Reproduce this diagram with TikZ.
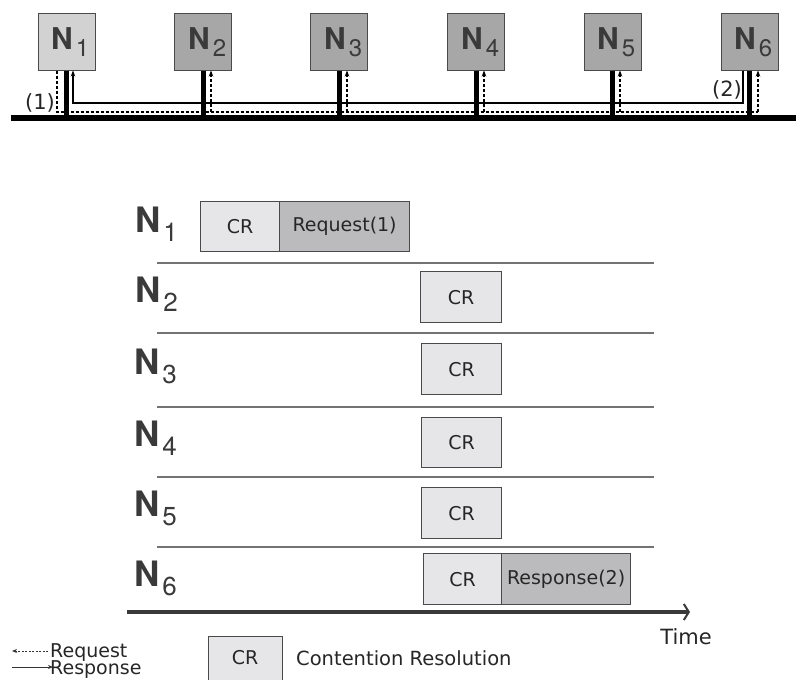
\documentclass[tikz,border=0pt]{standalone}
\usepackage{fontspec}
\setmainfont{DejaVu Sans}
\newfontfamily\hvfont{TeX Gyre Heros}
\usetikzlibrary{arrows.meta}
\definecolor{boxlight}{HTML}{D2D2D2}
\definecolor{boxdark}{HTML}{A7A7A7}
\definecolor{crfill}{HTML}{E6E6E8}
\definecolor{msgfill}{HTML}{BBBBBD}
\definecolor{labelgrey}{HTML}{3A3A3A}
\definecolor{edgegrey}{HTML}{4A4A4A}
% bold N with a lowered regular index: #1 index, #2 gap, #3 drop, #4 N size, #5 index size
\newcommand\nodetag[5]{{\hvfont\fontsize{#4}{#4}\selectfont\bfseries N\hspace{#2}\raisebox{-#3}{\fontsize{#5}{#5}\mdseries\selectfont #1}}}
\begin{document}
\begin{tikzpicture}[x=1pt,y=-1pt,
  station/.style={draw=edgegrey,line width=1pt,minimum width=57pt,minimum height=57pt,inner sep=0pt},
  toplabel/.style={anchor=base west,inner sep=0pt,text=labelgrey},
  rowlabel/.style={anchor=base west,inner sep=0pt,text=labelgrey},
  stem/.style={line width=5pt,black},
  req/.style={line width=1.2pt,dash pattern=on 3pt off 2pt,black},
  resp/.style={line width=1.2pt,black},
  tip/.style={-{Stealth[length=6pt,width=4.5pt]}},
  slot/.style={draw=edgegrey,line width=1.2pt,anchor=north west,inner sep=0pt,font=\fontsize{19}{19}\selectfont,text=black!85},
  rowline/.style={line width=1.4pt,black!55},
  paren/.style={inner sep=0pt,font=\fontsize{21}{21}\selectfont,text=black!85}
]
\useasboundingbox (0,0) rectangle (796,680);
\clip (0,0) rectangle (796,680);

% ---------- bus with six stations ----------
\coordinate (busL) at (11,118);
\coordinate (busR) at (796,118);
\draw[line width=6pt] (busL) -- (busR);

\node[station,fill=boxlight] (n1) at (66.5,41.5) {};
\node[station,fill=boxdark]  (n2) at (203,41.5) {};
\node[station,fill=boxdark]  (n3) at (339,41.5) {};
\node[station,fill=boxdark]  (n4) at (476,41.5) {};
\node[station,fill=boxdark]  (n5) at (612.5,41.5) {};
\node[station,fill=boxdark]  (n6) at (749.5,41.5) {};

\node[toplabel] (t1) at (51,49)  {\nodetag{1}{3pt}{7pt}{30}{24}};
\node[toplabel] (t2) at (188,49) {\nodetag{2}{3pt}{7pt}{30}{24}};
\node[toplabel] (t3) at (324,49) {\nodetag{3}{3pt}{7pt}{30}{24}};
\node[toplabel] (t4) at (461,49) {\nodetag{4}{3pt}{7pt}{30}{24}};
\node[toplabel] (t5) at (597,49) {\nodetag{5}{3pt}{7pt}{30}{24}};
\node[toplabel] (t6) at (734,49) {\nodetag{6}{3pt}{7pt}{30}{24}};

\foreach \i in {1,...,6}
  \draw[stem] (n\i.south) -- (n\i.south |- busL);

% request (1), broadcast by N1
\coordinate (q1) at (57,112);
\coordinate (q2) at (211,112);
\coordinate (q3) at (347,112);
\coordinate (q4) at (484,112);
\coordinate (q5) at (620,112);
\coordinate (q6) at (758,112);
\draw[req] (q1 |- n1.south) -- (q1) -- (q6);
\foreach \i in {2,...,6}
  \draw[req,tip] (q\i) -- (q\i |- n\i.south);

% response (2), from N6 back to N1
\coordinate (s6) at (743,103);
\coordinate (s1) at (73,103);
\draw[resp,tip] (s6 |- n6.south) -- (s6) -- (s1) -- (s1 |- n1.south);

\node[paren] (p1) at (40,103) {(1)};
\node[paren] (p2) at (727,90) {(2)};

% ---------- timing diagram ----------
\node[rowlabel] (r1) at (135,232) {\nodetag{1}{3pt}{9pt}{35}{26}};
\node[rowlabel] (r2) at (135,302) {\nodetag{2}{3pt}{9pt}{35}{26}};
\node[rowlabel] (r3) at (134,374) {\nodetag{3}{3pt}{9pt}{35}{26}};
\node[rowlabel] (r4) at (134,446) {\nodetag{4}{3pt}{9pt}{35}{26}};
\node[rowlabel] (r5) at (134,516) {\nodetag{5}{3pt}{9pt}{35}{26}};
\node[rowlabel] (r6) at (134,586) {\nodetag{6}{3pt}{9pt}{35}{26}};

\foreach \y [count=\k] in {263,333,407,477,547}
  \draw[rowline] (157,\y) coordinate (a\k) -- (654,\y) coordinate (b\k);

\node[slot,fill=crfill,minimum width=79pt,minimum height=50pt] (cr1) at (200,201) {CR};
\node[slot,fill=msgfill,minimum width=130pt,minimum height=50pt] (rq) at (279,201) {Request(1)};
\node[slot,fill=crfill,minimum width=81pt,minimum height=51pt] (cr2) at (420,271) {CR};
\node[slot,fill=crfill,minimum width=80pt,minimum height=51pt] (cr3) at (421,343) {CR};
\node[slot,fill=crfill,minimum width=80pt,minimum height=50pt] (cr4) at (421,417) {CR};
\node[slot,fill=crfill,minimum width=80pt,minimum height=51pt] (cr5) at (421,487) {CR};
\node[slot,fill=crfill,minimum width=78pt,minimum height=51pt] (cr6) at (423,553) {CR};
\node[slot,fill=msgfill,minimum width=129pt,minimum height=51pt] (rs) at (501,553) {Response(2)};

\coordinate (t0) at (127,612);
\coordinate (tend) at (690,612);
\draw[line width=4pt,labelgrey,-{Straight Barb[length=5pt,width=16pt,line width=2pt]}] (t0) -- (tend);
\node[inner sep=0pt,font=\fontsize{21}{21}\selectfont,text=black!85] (time) at (686,637) {Time};

% ---------- legend ----------
\coordinate (lq0) at (48,651);
\coordinate (lq1) at (12,651);
\coordinate (ls0) at (12,667);
\coordinate (ls1) at (53,667);
\draw[line width=0.9pt,dash pattern=on 2pt off 1.5pt,black!80,-{Stealth[length=5pt,width=4pt]}] (lq0) -- (lq1);
\draw[line width=0.9pt,black!80,-{Stealth[length=5pt,width=4pt]}] (ls0) -- (ls1);
\node[anchor=base west,inner sep=0pt,font=\fontsize{19}{19}\selectfont,text=black!85] (lreq) at (50,657) {Request};
\node[anchor=base west,inner sep=0pt,font=\fontsize{19}{19}\selectfont,text=black!85] (lresp) at (50,674) {Response};
\node[slot,fill=crfill,minimum width=74pt,minimum height=50pt] (lcr) at (208,636) {};
\node[inner sep=0pt,font=\fontsize{19}{19}\selectfont,text=black!85] (lcrt) at (245,658) {CR};
\node[anchor=west,inner sep=0pt,font=\fontsize{19.5}{19.5}\selectfont,text=black!85] (lcrd) at (296,658) {Contention Resolution};
\end{tikzpicture}
\end{document}
